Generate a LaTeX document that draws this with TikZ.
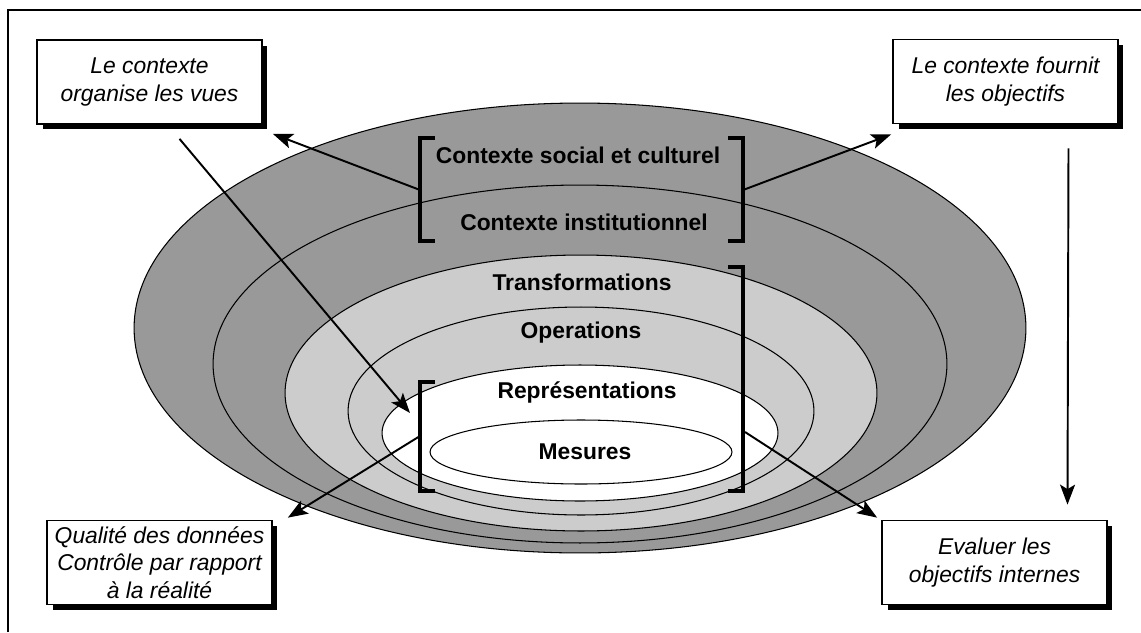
\documentclass[tikz,border=0pt]{standalone}
\usepackage{fontspec}
\setsansfont{Liberation Sans}
\usetikzlibrary{arrows.meta,shadows}
\definecolor{mdark}{RGB}{153,153,153}
\definecolor{mlight}{RGB}{204,204,204}

\begin{document}
\begin{tikzpicture}[x=0.02cm, y=-0.02cm,
    infobox/.style={rectangle, draw, fill=white, line width=1pt, minimum width=4.5cm, minimum height=1.68cm, align=center,
        font=\sffamily\itshape\fontsize{13}{15.5}\selectfont,
        drop shadow={shadow xshift=0.11cm, shadow yshift=-0.11cm, fill=black, opacity=1}},
    ring/.style={font=\sffamily\bfseries\fontsize{13}{16}\selectfont},
    ringline/.style={draw=black, line width=0.6pt},
    bracket/.style={line width=2pt},
    arr/.style={-{Stealth[length=4mm,width=3mm,inset=0.9mm]}, line width=1.1pt}]
    \useasboundingbox (0,0) rectangle (1141,632);
    \draw[line width=1.2pt] (8,632) -- (8,10) -- (1141,10);

    % the funnel
    \fill[mdark, ringline] (580,328) ellipse [x radius=8.92cm, y radius=4.5cm];
    \draw[ringline] (580,364) ellipse [x radius=7.34cm, y radius=3.58cm];
    \fill[mlight, ringline] (581,393) ellipse [x radius=5.92cm, y radius=2.76cm];
    \draw[ringline] (581,411) ellipse [x radius=4.66cm, y radius=2.08cm];
    \fill[white, ringline] (580,433) ellipse [x radius=3.96cm, y radius=1.36cm];
    \fill[white, ringline] (581,452) ellipse [x radius=3.02cm, y radius=0.64cm];

    \node[ring] (social) at (578,155) {Contexte social et culturel};
    \node[ring] (instit) at (584,222) {Contexte institutionnel};
    \node[ring] (transf) at (582,282) {Transformations};
    \node[ring] (operat) at (581,333) {Operations};
    \node[ring] (repres) at (587,392) {Représentations};
    \node[ring] (mesure) at (585,452) {Mesures};

    % brackets
    \draw[bracket] (435,138) -- (420,138) -- (420,241) -- (435,241);
    \draw[bracket] (728,138) -- (743,138) -- (743,241) -- (728,241);
    \draw[bracket] (728,267) -- (743,267) -- (743,491) -- (728,491);
    \draw[bracket] (435,382) -- (420,382) -- (420,491) -- (435,491);
    \coordinate (ctxL) at (420,190);
    \coordinate (ctxR) at (743,190);
    \coordinate (trR)  at (745,432);
    \coordinate (repL) at (420,436);
    \coordinate (repTop) at (420,382);

    \node[infobox] (vues)    at (149.5,82)  {Le contexte\\organise les vues};
    \node[infobox] (fournit) at (1005.5,81.5) {Le contexte fournit\\les objectifs};
    \node[infobox] (donnees) at (159.5,562.5) {Qualité des données\\Contrôle par rapport\\à la réalité};
    \node[infobox] (evaluer) at (994.5,562.5) {Evaluer les\\objectifs internes};

    \draw[arr] (ctxL) -- ([xshift=0.2cm, yshift=-0.18cm]vues.south east);
    \draw[arr] (ctxR) -- ([xshift=-0.02cm, yshift=-0.2cm]fournit.south west);
    \draw[arr] ([xshift=0.6cm, yshift=-0.28cm]vues.south) -- ([xshift=-0.2cm, yshift=-0.62cm]repTop);
    \draw[arr] (repL) -- ([xshift=0.3cm, yshift=0.04cm]donnees.north east);
    \draw[arr] (trR) -- ([xshift=-0.08cm, yshift=0.04cm]evaluer.north west);
    \draw[arr] ([xshift=1.26cm, yshift=-0.48cm]fournit.south) -- ([xshift=1.46cm, yshift=0.3cm]evaluer.north);
\end{tikzpicture}
\end{document}
